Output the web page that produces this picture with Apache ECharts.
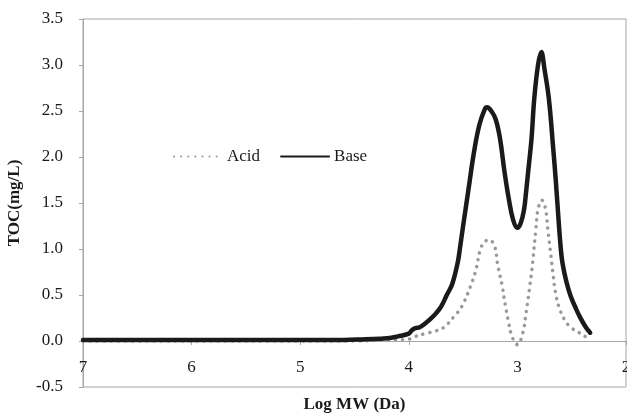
<!DOCTYPE html>
<html>
<head>
	<meta charset="utf-8"/>
	<script src="https://cdn.jsdelivr.net/npm/echarts@6/dist/echarts.min.js"></script>
	<style>
		html, body { margin: 0; padding: 0; background: #fff; }
		#chart { width: 627px; height: 415px; }
	</style>
	<title>TOC vs Log MW</title>
</head>
<body>
	<div id="chart"></div>
	<script>
		// series names
		const seriesNames = ['Acid', 'Base'];
		// Acid curve: log MW and TOC (mg/L)
		const acidX = [7, 6, 5, 4.5, 4.2, 4.0, 3.94, 3.85, 3.75, 3.68, 3.58, 3.51, 3.43, 3.38, 3.34, 3.3, 3.26, 3.21, 3.18, 3.14, 3.11, 3.08, 3.05, 3.0, 2.95, 2.92, 2.89, 2.86, 2.83, 2.81, 2.775, 2.74, 2.72, 2.69, 2.67, 2.65, 2.62, 2.57, 2.51, 2.43, 2.35, 2.33];
		const acidY = [0, 0, 0, 0, 0.01, 0.02, 0.05, 0.08, 0.11, 0.145, 0.27, 0.38, 0.6, 0.78, 1.0, 1.08, 1.1, 1.03, 0.82, 0.6, 0.38, 0.2, 0.05, -0.04, 0.09, 0.31, 0.56, 0.85, 1.22, 1.43, 1.53, 1.43, 1.22, 0.92, 0.71, 0.53, 0.38, 0.24, 0.15, 0.09, 0.03, 0.01];
		// Base curve
		const baseX = [7, 6, 5, 4.6, 4.4, 4.2, 4.1, 4.0, 3.97, 3.94, 3.9, 3.85, 3.8, 3.75, 3.7, 3.65, 3.6, 3.55, 3.53, 3.5, 3.45, 3.4, 3.35, 3.3, 3.28, 3.24, 3.2, 3.16, 3.12, 3.08, 3.04, 3.0, 2.97, 2.94, 2.92, 2.9, 2.87, 2.845, 2.81, 2.78, 2.75, 2.71, 2.67, 2.645, 2.62, 2.6, 2.585, 2.55, 2.51, 2.46, 2.415, 2.37, 2.33];
		const baseY = [0.01, 0.01, 0.01, 0.01, 0.02, 0.03, 0.05, 0.08, 0.12, 0.14, 0.15, 0.19, 0.24, 0.3, 0.38, 0.5, 0.62, 0.85, 1.0, 1.25, 1.65, 2.05, 2.35, 2.52, 2.54, 2.5, 2.41, 2.2, 1.85, 1.55, 1.32, 1.23, 1.28, 1.42, 1.62, 1.85, 2.2, 2.63, 3.0, 3.14, 2.95, 2.63, 2.09, 1.72, 1.3, 1.0, 0.85, 0.65, 0.49, 0.35, 0.24, 0.15, 0.09];
		// axis ticks
		const xMin = 2, xMax = 7, xStep = 1;
		const yMin = -0.5, yMax = 3.5, yStep = 0.5;

		const font = 'Liberation Serif';
		const acidColor = '#999999', baseColor = '#1a1a1a';
		const zip = (xs, ys) => xs.map((x, i) => [x, ys[i]]);

		const chart = echarts.init(document.getElementById('chart'));
		chart.setOption({
			animation: false,
			textStyle: { fontFamily: font },
			grid: {
				left: 83, right: 1, top: 19, bottom: 28,
				outerBoundsMode: 'none', containLabel: false,
				show: true, borderColor: '#a6a6a6', borderWidth: 1
			},
			legend: {
				left: 168, top: 143,
				itemWidth: 48, itemHeight: 14, itemGap: 20,
				itemStyle: { opacity: 0 },
				textStyle: { fontFamily: font, fontSize: 17, color: '#1a1a1a' },
				data: seriesNames
			},
			xAxis: {
				type: 'value', inverse: true,
				min: xMin, max: xMax, interval: xStep,
				name: 'Log MW (Da)', nameLocation: 'middle', nameGap: 9,
				nameTextStyle: { fontFamily: font, fontSize: 17, fontWeight: 'bold', color: '#1a1a1a' },
				axisLine: { onZero: true, lineStyle: { color: '#a6a6a6', width: 1 } },
				axisTick: { show: true, length: 4, lineStyle: { color: '#a6a6a6' } },
				axisLabel: { fontFamily: font, fontSize: 17, color: '#1a1a1a', margin: -28 },
				splitLine: { show: false }
			},
			yAxis: {
				type: 'value', min: yMin, max: yMax, interval: yStep,
				name: 'TOC(mg/L)', nameLocation: 'middle', nameGap: 60,
				nameTextStyle: { fontFamily: font, fontSize: 17, fontWeight: 'bold', color: '#1a1a1a' },
				axisLine: { show: true, lineStyle: { color: '#a6a6a6', width: 1 } },
				axisTick: { show: true, length: 4, lineStyle: { color: '#a6a6a6' } },
				axisLabel: { fontFamily: font, fontSize: 17, color: '#1a1a1a', margin: 20,
					formatter: v => v.toFixed(1) },
				splitLine: { show: false }
			},
			series: [
				{
					name: seriesNames[0], type: 'line', data: zip(acidX, acidY),
					symbol: 'none', smooth: 0.4, z: 2, color: acidColor,
					lineStyle: { color: acidColor, width: 3.5, type: [0.1, 7], cap: 'round' }
				},
				{
					name: seriesNames[1], type: 'line', data: zip(baseX, baseY),
					symbol: 'none', smooth: 0.4, z: 3, color: baseColor,
					lineStyle: { color: baseColor, width: 4.5, cap: 'round' }
				}
			]
		});
	</script>
</body>
</html>
